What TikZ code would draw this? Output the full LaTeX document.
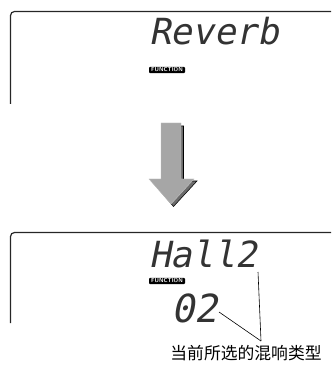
\documentclass[tikz,border=0pt]{standalone}
\usepackage{fontspec}
\usepackage{tikz}
\usetikzlibrary{positioning, calc}
\newfontfamily\lcdfont{DejaVu Sans Mono}[FakeSlant=0.2]
\newfontfamily\cjk{Noto Sans CJK SC}

\begin{document}
\begin{tikzpicture}[
    x=0.75pt, y=-0.75pt,
    frame/.style={draw=black!85, line width=0.9pt, rounded corners=3pt},
    lcd/.style={inner sep=0pt, anchor=base west, text=black!80, font=\lcdfont\fontsize{27pt}{27pt}\selectfont},
    badge/.style={rectangle, rounded corners=0.8pt, fill=black, text=white, inner sep=0pt,
        minimum width=27pt, minimum height=4.8pt, font=\sffamily\bfseries\fontsize{4.3pt}{4.3pt}\selectfont},
    callout/.style={draw=black, line width=0.45pt},
    bigarrow/.style={fill=black!35, draw=black!25, line width=0.3pt},
    arrowshadow/.style={fill=black!58}
]
\useasboundingbox (0,0) rectangle (331,366);

% top display
\draw [frame] (10.5,104) -- (10.5,11.5) -- (331,11.5);
\node (reverb) [lcd] at (149,45) {Reverb};
\node (func1) [badge] at (167,70) {FUNCTION};

% arrow between the two displays
\draw [arrowshadow] (163.5,126) -- (183.5,126) -- (183.5,181) -- (197,181) -- (173.5,206.5) -- (151.5,181) -- (163.5,181) -- cycle;
\draw [bigarrow] (161,123) -- (181,123) -- (181,179) -- (194,179) -- (171,204) -- (149,179) -- (161,179) -- cycle;

% bottom display
\draw [frame] (10.5,323) -- (10.5,232.5) -- (331,232.5);
\node (hall) [lcd] at (149,267) {Hall2};
\node (func2) [badge] at (167,281) {FUNCTION};
\node (number) [lcd, font=\lcdfont\fontsize{29pt}{29pt}\selectfont] at (171,322) {02};

\node (typelabel) [inner sep=0pt, font=\cjk\fontsize{12.6pt}{12.6pt}\selectfont] at (246,353.5) {当前所选的混响类型};
\coordinate (hallpt) at (258,272);
\coordinate (numpt) at (219,312);
\coordinate (tip) at (261,341);

\draw [callout] (hallpt) -- (tip);
\draw [callout] (numpt) -- (tip);

\end{tikzpicture}
\end{document}
